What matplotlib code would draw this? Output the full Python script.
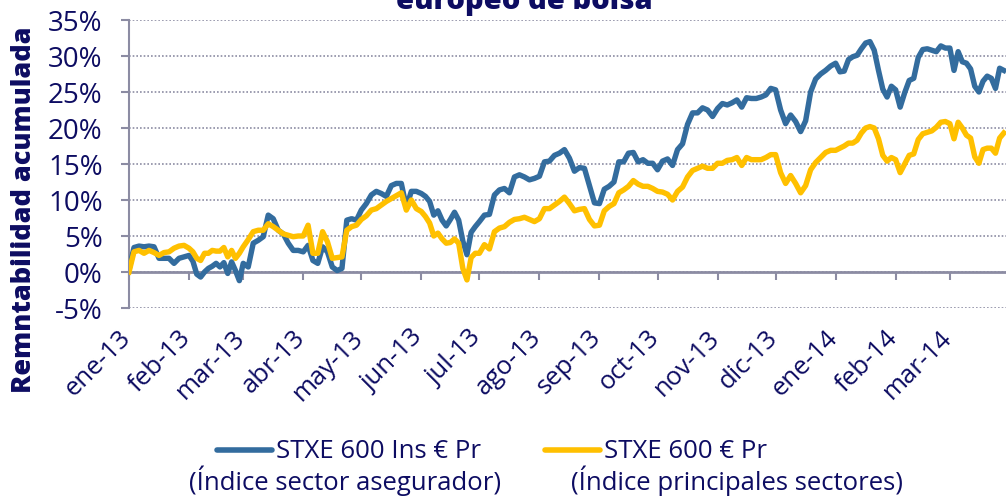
import numpy as np
import pandas as pd
import matplotlib
matplotlib.use("Agg")
import matplotlib.pyplot as plt
import matplotlib.transforms as mtransforms
from matplotlib.lines import Line2D

# month boundaries of the series (last one closes March 2014)
month_starts = ["2013-01-01", "2013-02-01", "2013-03-01", "2013-04-01", "2013-05-01",
                "2013-06-01", "2013-07-01", "2013-08-01", "2013-09-01", "2013-10-01",
                "2013-11-01", "2013-12-01", "2014-01-01", "2014-02-01", "2014-03-01",
                "2014-03-31"]
points_per_month = [12, 14, 12, 12, 12, 14, 12, 12, 12, 12, 12, 12, 14, 12, 14]

# STXE 600 Ins € Pr, accumulated return in %
ins_values = [
    0.3, 3.4, 3.6, 3.5, 3.6, 3.5, 1.9, 1.9, 1.9, 1.2, 1.9, 2.1,                 # ene-13
    2.3, 1.5, -0.3, -0.7, 0.0, 0.5, 0.8, 1.2, 0.7, 1.3, -0.2, 1.4, 0.2, -1.2,   # feb-13
    1.2, 0.7, 4.0, 4.4, 4.9, 7.9, 7.4, 5.8, 5.3, 4.0, 3.0, 3.0,                 # mar-13
    2.8, 3.7, 1.6, 1.2, 3.5, 2.8, 0.7, 0.2, 0.5, 7.2, 7.4, 7.2,                 # abr-13
    8.6, 9.5, 10.7, 11.2, 10.9, 10.5, 12.0, 12.3, 12.3, 9.0, 11.2, 11.2,        # may-13
    10.9, 10.5, 9.8, 7.9, 8.5, 7.2, 6.4, 7.3, 8.3, 7.2, 4.3, 2.4, 5.5, 6.3,     # jun-13
    7.0, 7.9, 8.0, 10.7, 11.4, 11.6, 11.0, 13.2, 13.5, 13.2, 12.8, 13.0,        # jul-13
    13.3, 15.3, 15.4, 16.2, 16.5, 17.0, 15.8, 14.0, 14.5, 14.4, 12.0, 9.6,      # ago-13
    9.5, 11.5, 11.9, 12.5, 15.3, 15.3, 16.5, 16.6, 15.3, 15.6, 15.1, 15.1,      # sep-13
    14.2, 15.4, 15.7, 14.8, 17.0, 17.8, 20.5, 22.1, 22.1, 22.8, 22.5, 21.6,     # oct-13
    22.7, 23.4, 23.2, 23.5, 23.9, 22.9, 24.2, 24.1, 24.1, 24.3, 24.6, 25.5,     # nov-13
    25.3, 22.5, 20.6, 21.8, 20.9, 19.5, 21.0, 25.0, 26.8, 27.5, 28.0, 28.6,     # dic-13
    29.0, 27.8, 27.9, 29.5, 29.9, 30.1, 31.0, 31.8, 32.0, 30.8, 28.0, 25.4, 24.3, 25.8,  # ene-14
    25.3, 22.9, 24.9, 26.6, 26.9, 29.8, 30.9, 31.0, 30.8, 30.6, 31.4, 31.1,     # feb-14
    31.1, 28.0, 30.6, 29.2, 29.0, 28.2, 25.8, 25.0, 26.5, 27.2, 26.9, 25.5, 28.3, 28.0,  # mar-14
]

# STXE 600 € Pr, accumulated return in %
mkt_values = [
    0.0, 2.8, 3.0, 2.6, 3.0, 2.7, 2.3, 2.7, 2.8, 3.3, 3.6, 3.7,
    3.3, 2.8, 1.9, 1.6, 2.6, 2.6, 3.0, 2.9, 2.9, 3.4, 2.1, 3.0, 1.9, 2.6,
    3.5, 4.5, 5.6, 5.8, 5.8, 6.7, 6.3, 5.8, 5.3, 5.1, 4.9, 5.0,
    5.0, 6.5, 2.6, 2.6, 5.6, 4.2, 1.9, 2.0, 2.1, 5.8, 6.3, 6.5,
    7.3, 7.8, 8.6, 8.8, 9.3, 9.8, 10.2, 10.6, 11.0, 8.6, 10.0, 8.8,
    8.4, 7.7, 6.8, 5.0, 5.4, 4.6, 4.0, 4.1, 4.6, 4.0, 0.5, -1.1, 2.0, 2.6,
    2.6, 3.8, 3.2, 5.6, 6.1, 6.3, 6.9, 7.3, 7.4, 7.6, 7.3, 7.0,
    7.4, 8.8, 8.8, 9.3, 9.8, 10.4, 9.5, 8.5, 8.7, 8.8, 7.3, 6.4,
    6.5, 8.5, 9.1, 9.5, 11.0, 11.4, 11.9, 12.7, 12.2, 11.9, 11.9, 11.6,
    11.2, 11.1, 10.8, 10.0, 11.2, 11.8, 13.2, 14.1, 14.4, 14.7, 14.4, 14.4,
    15.1, 15.1, 15.5, 15.6, 15.9, 14.8, 15.9, 15.6, 15.6, 15.6, 15.9, 16.3,
    16.3, 13.8, 12.3, 13.4, 12.3, 11.0, 12.0, 14.2, 15.2, 15.9, 16.6, 16.9,
    16.9, 17.2, 17.5, 17.9, 17.9, 18.3, 19.3, 20.0, 20.2, 20.0, 18.5, 16.2, 15.4, 15.9,
    15.6, 13.8, 15.0, 16.2, 16.4, 18.4, 19.2, 19.4, 19.6, 20.1, 20.8, 20.9,
    20.6, 18.5, 20.8, 20.0, 19.0, 18.6, 16.0, 15.1, 17.0, 17.2, 17.2, 16.5, 18.6, 19.3,
]

month_labels = ["ene-13", "feb-13", "mar-13", "abr-13", "may-13", "jun-13", "jul-13",
                "ago-13", "sep-13", "oct-13", "nov-13", "dic-13", "ene-14", "feb-14",
                "mar-14"]
series_labels = ["STXE 600 Ins € Pr", "STXE 600 € Pr"]
series_notes = ["(Índice sector asegurador)", "(Índice principales sectores)"]
y_ticks = [-5, 0, 5, 10, 15, 20, 25, 30, 35]

NAVY = "#0d0c62"
GREY = "#8c8ca3"
BLUE = "#336c9e"
GOLD = "#ffc000"

plt.rcParams["font.family"] = ["Open Sans", "DejaVu Sans"]


# spread each month's readings evenly over that month
def month_dates():
    out = []
    for i, n in enumerate(points_per_month):
        s = pd.Timestamp(month_starts[i]).value
        e = pd.Timestamp(month_starts[i + 1]).value
        out.extend(np.linspace(s, e, n, endpoint=False))
    return pd.to_datetime(np.array(out, dtype="int64"))


dates = month_dates()
ticks = pd.to_datetime(month_starts[:-1])

fig = plt.figure(figsize=(10.06, 4.98), dpi=100)
W, H = 1006.0, 498.0
ax = fig.add_axes([129 / W, 1 - 308 / H, 1 - 129 / W, 288 / H])

ax.plot(dates, ins_values, color=BLUE, lw=3.9, solid_joinstyle="round", zorder=3)
ax.plot(dates, mkt_values, color=GOLD, lw=3.9, solid_joinstyle="round", zorder=4)

ax.set_ylim(-5, 35)
ax.set_xlim(pd.Timestamp("2013-01-01"), pd.Timestamp("2014-03-30"))
ax.set_yticks(y_ticks)
ax.set_yticklabels([f"{v}%" for v in y_ticks])
ax.yaxis.grid(True, linestyle=(0, (1, 1.2)), color=GREY, lw=1.2)
ax.set_axisbelow(True)

for s in ["top", "right", "bottom"]:
    ax.spines[s].set_visible(False)
ax.spines["left"].set_color(GREY)
ax.spines["left"].set_linewidth(1.5)
ax.tick_params(axis="y", length=6, width=1.5, color=GREY, labelcolor=NAVY,
               labelsize=20, pad=13)

# x axis line sits on 0 %, labels stay below the plot
ax.axhline(0, color=GREY, lw=2, zorder=2)
ax.plot(ticks, np.zeros(len(ticks)), ls="none", marker=3, ms=6, mew=1.5,
        color=GREY, zorder=2, clip_on=False)
ax.set_xticks(ticks)
ax.set_xticklabels(month_labels, rotation=45, ha="right")
ax.tick_params(axis="x", length=0, labelcolor=NAVY, labelsize=18.5, pad=11)
shift = mtransforms.ScaledTranslation(7 / 100, -2 / 100, fig.dpi_scale_trans)
for lab in ax.get_xticklabels():
    lab.set_transform(lab.get_transform() + shift)

fig.text(24 / W, 1 - 210 / H, "Remntabilidad acumulada", rotation=90,
         ha="center", va="center", color=NAVY, fontsize=19.5, fontweight=800)
fig.text(524 / W, 1 - 9 / H, "europeo de bolsa", ha="center", va="baseline",
         color=NAVY, fontsize=21, fontweight=800)

# legend, two wrapped entries
handles_x = [(217, 272), (545, 600)]
text_x = [276, 604]
note_x = [345, 737]
for i, col in enumerate([BLUE, GOLD]):
    x0, x1 = handles_x[i]
    fig.add_artist(Line2D([x0 / W, x1 / W], [1 - 450 / H] * 2, color=col, lw=4,
                          solid_capstyle="round", transform=fig.transFigure))
    fig.text(text_x[i] / W, 1 - 458 / H, series_labels[i], ha="left",
             va="baseline", color=NAVY, fontsize=18.5)
    fig.text(note_x[i] / W, 1 - 490 / H, series_notes[i], ha="center",
             va="baseline", color=NAVY, fontsize=18.5)

fig.savefig("out.png", dpi=100)
